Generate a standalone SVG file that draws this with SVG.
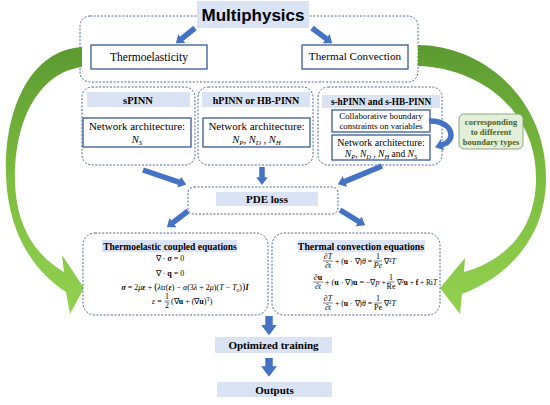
<svg xmlns="http://www.w3.org/2000/svg" width="550" height="405" viewBox="0 0 550 405">
<style>
.dash{fill:#fff;stroke:#4a6594;stroke-width:1;stroke-dasharray:2 1.6}
.box{fill:#fff;stroke:#3a5a96;stroke-width:1.3}
.lbl{fill:#dae3f3}
.t{font-family:"Liberation Serif",serif;fill:#000}
.b{font-family:"Liberation Serif",serif;font-weight:bold;fill:#000}
.eq{font-family:"Liberation Serif",serif;font-size:8px;fill:#000}
.i{font-style:italic}
.bi{font-style:italic;font-weight:bold}
.bd{font-weight:bold}
.cal{font-family:"Liberation Serif",serif;font-style:italic}
.arr{fill:none;stroke:#4472c4;stroke-width:5.5;marker-end:url(#ah)}
.arrw{fill:none;stroke:#4472c4;stroke-width:7.5;marker-end:url(#ah)}
.fl{stroke:#000;stroke-width:0.5}
</style>
<defs>
<marker id="ah" viewBox="0 0 8 12" refX="0.5" refY="6" markerWidth="1.4" markerHeight="2.1" orient="auto" markerUnits="strokeWidth">
<path d="M0,0 L8,6 L0,12 z" fill="#4472c4"/>
</marker>
<linearGradient id="gg" x1="0" y1="0" x2="0" y2="1">
<stop offset="0" stop-color="#5b9a31"/>
<stop offset="0.5" stop-color="#7dbd3f"/>
<stop offset="1" stop-color="#93d150"/>
</linearGradient>
</defs>

<!-- Top Multiphysics group -->
<g id="multiphysics">
<rect class="dash" x="80" y="16" width="338" height="66" rx="10"/>
<rect class="lbl" x="197" y="1" width="112" height="27"/>
<text x="253" y="21" text-anchor="middle" font-family="Liberation Sans,sans-serif" font-weight="bold" font-size="17">Multiphysics</text>
</g>
<g id="thermoelasticity">
<rect class="box" x="91" y="45" width="116" height="24"/>
<text class="t" x="149" y="61" text-anchor="middle" font-size="11.5">Thermoelasticity</text>
</g>
<g id="thermal-convection">
<rect class="box" x="302" y="45" width="106" height="24"/>
<text class="t" x="355" y="60" text-anchor="middle" font-size="11.2">Thermal Convection</text>
</g>

<!-- Green curved arrows -->
<g id="green-arrows">
<path fill="url(#gg)" d="M82,47 C30,50 4,110 6,175 C8,235 35,272 66,292 L70,314 L84,288 L62,255 L64,272 C35,255 15,225 15,178 C15,115 42,72 82,67 Z"/>
<path fill="url(#gg)" d="M418,45 C485,46 546,100 546,178 C546,240 505,278 462,294 L460,314 L440,288 L465,258 L464,272 C500,262 536,235 536,178 C536,110 480,68 418,66 Z"/>
</g>

<!-- Row 2 -->
<g id="spinn">
<rect class="dash" x="82" y="87" width="113" height="78" rx="10"/>
<rect class="lbl" x="87" y="92" width="103" height="15"/>
<text class="b" x="138" y="103.5" text-anchor="middle" font-size="10.5">sPINN</text>
<rect class="box" x="83" y="118" width="108" height="29"/>
<text class="t" x="137" y="130" text-anchor="middle" font-size="11">Network architecture:</text>
<text class="t" x="137" y="143" text-anchor="middle" font-size="10.5"><tspan class="cal">N</tspan><tspan class="i" font-size="7" dy="2">S</tspan></text>
</g>
<g id="hpinn">
<rect class="dash" x="198" y="87" width="115" height="78" rx="10"/>
<rect class="lbl" x="202" y="92" width="108" height="15"/>
<text class="b" x="256" y="103.5" text-anchor="middle" font-size="10">hPINN or HB-PINN</text>
<rect class="box" x="203" y="118" width="107" height="29"/>
<text class="t" x="256.5" y="130" text-anchor="middle" font-size="11">Network architecture:</text>
<text class="t" x="256.5" y="143" text-anchor="middle" font-size="10.5"><tspan class="cal">N</tspan><tspan class="i" font-size="7" dy="2">P</tspan><tspan dy="-2">, </tspan><tspan class="cal">N</tspan><tspan class="i" font-size="7" dy="2">D</tspan><tspan dy="-2"> , </tspan><tspan class="cal">N</tspan><tspan class="i" font-size="7" dy="2">H</tspan></text>
</g>
<g id="s-hpinn">
<rect class="dash" x="318" y="87" width="124" height="78" rx="10"/>
<rect class="lbl" x="322" y="95" width="118" height="13"/>
<text class="b" x="381" y="105" text-anchor="middle" font-size="9.3">s-hPINN and s-HB-PINN</text>
<rect class="box" x="332" y="110" width="98" height="22"/>
<text class="t" x="381" y="119" text-anchor="middle" font-size="8.8">Collaborative boundary</text>
<text class="t" x="381" y="129" text-anchor="middle" font-size="8.8">constraints on variables</text>
<rect class="box" x="332" y="135" width="98" height="25"/>
<text class="t" x="381" y="146" text-anchor="middle" font-size="10">Network architecture:</text>
<text class="t" x="381" y="157" text-anchor="middle" font-size="9.5"><tspan class="cal">N</tspan><tspan class="i" font-size="6.5" dy="2">P</tspan><tspan dy="-2">, </tspan><tspan class="cal">N</tspan><tspan class="i" font-size="6.5" dy="2">D</tspan><tspan dy="-2"> , </tspan><tspan class="cal">N</tspan><tspan class="i" font-size="6.5" dy="2">H</tspan><tspan dy="-2"> and </tspan><tspan class="cal">N</tspan><tspan class="i" font-size="6.5" dy="2">S</tspan></text>
</g>
<g id="boundary-types">
<rect x="459" y="114" width="64" height="35" rx="5" fill="#e2efd9" stroke="#8fa97c" stroke-width="1"/>
<text class="b" x="491" y="124.5" text-anchor="middle" font-size="8.5" style="fill:#4f6228">corresponding</text>
<text class="b" x="491" y="134.5" text-anchor="middle" font-size="8.5" style="fill:#4f6228">to different</text>
<text class="b" x="491" y="144.5" text-anchor="middle" font-size="8.5" style="fill:#4f6228">boundary types</text>
</g>

<!-- PDE loss -->
<g id="pde-loss">
<rect class="dash" x="188" y="187" width="150" height="27" rx="6"/>
<rect class="lbl" x="216" y="192" width="102" height="14"/>
<text class="b" x="267" y="203" text-anchor="middle" font-size="11">PDE loss</text>
</g>

<!-- Thermoelastic equations -->
<g id="thermoelastic-equations">
<rect class="dash" x="83" y="233" width="185" height="82" rx="12"/>
<rect class="lbl" x="102" y="240" width="135" height="12"/>
<text class="b" x="170" y="249.5" text-anchor="middle" font-size="9.5">Thermoelastic coupled equations</text>
<text class="eq" x="170" y="261" text-anchor="middle">∇ · <tspan class="bi">σ</tspan> = 0</text>
<text class="eq" x="170" y="276" text-anchor="middle">∇ · <tspan class="bd">q</tspan> = 0</text>
<text class="eq" x="185" y="290" text-anchor="middle"><tspan class="bi">σ</tspan> = 2<tspan class="i">μ</tspan><tspan class="bi">ε</tspan> + <tspan font-size="10">(</tspan><tspan class="i">λ</tspan>tr(<tspan class="bi">ε</tspan>) − <tspan class="i">α</tspan>(3<tspan class="i">λ</tspan> + 2<tspan class="i">μ</tspan>)(<tspan class="i">T</tspan> − <tspan class="i">T</tspan><tspan class="i" font-size="5.5" dy="1.5">o</tspan><tspan dy="-1.5">)</tspan><tspan font-size="10">)</tspan><tspan class="bi">I</tspan></text>
<text class="eq" x="152" y="303.5"><tspan class="i">ε</tspan> =</text>
<text class="eq" x="167" y="299" text-anchor="middle" font-size="6.5">1</text>
<line class="fl" x1="164.5" y1="301" x2="169.5" y2="301"/>
<text class="eq" x="167" y="307.5" text-anchor="middle" font-size="6.5">2</text>
<text class="eq" x="171" y="303.5">(∇<tspan class="bd">u</tspan> + (∇<tspan class="bd">u</tspan>)<tspan font-size="5.5" dy="-3">T</tspan><tspan dy="3">)</tspan></text>
</g>

<!-- Thermal convection equations -->
<g id="convection-equations">
<rect class="dash" x="272" y="233" width="168" height="82" rx="12"/>
<rect class="lbl" x="298" y="240" width="127" height="12"/>
<text class="b" x="361" y="249.5" text-anchor="middle" font-size="9.8">Thermal convection equations</text>
<!-- eq 1 -->
<text class="eq" x="328" y="259" text-anchor="middle" font-size="7.5">∂<tspan class="i">T</tspan></text>
<line class="fl" x1="323" y1="261" x2="333" y2="261"/>
<text class="eq" x="328" y="268" text-anchor="middle" font-size="7.5">∂<tspan class="i">t</tspan></text>
<text class="eq" x="335" y="264" textLength="37" lengthAdjust="spacingAndGlyphs">+ (<tspan class="bd">u</tspan> · ∇)<tspan class="i">θ</tspan> =</text>
<text class="eq" x="378" y="259" text-anchor="middle" font-size="7.5">1</text>
<line class="fl" x1="374" y1="261" x2="382" y2="261"/>
<text class="eq" x="378" y="268" text-anchor="middle" font-size="7.5"><tspan class="i">Pe</tspan></text>
<text class="eq" x="384" y="264">∇²<tspan class="i">T</tspan></text>
<!-- eq 2 -->
<text class="eq" x="318" y="280" text-anchor="middle" font-size="7.5">∂<tspan class="bd">u</tspan></text>
<line class="fl" x1="313" y1="282" x2="323" y2="282"/>
<text class="eq" x="318" y="289" text-anchor="middle" font-size="7.5">∂<tspan class="i">t</tspan></text>
<text class="eq" x="325" y="285" textLength="61" lengthAdjust="spacingAndGlyphs">+ (<tspan class="bd">u</tspan> · ∇)<tspan class="bd">u</tspan> = −∇<tspan class="i">p</tspan> +</text>
<text class="eq" x="391" y="280" text-anchor="middle" font-size="7.5">1</text>
<line class="fl" x1="387.5" y1="282" x2="394.5" y2="282"/>
<text class="eq" x="391" y="289" text-anchor="middle" font-size="7">Re</text>
<text class="eq" x="397" y="285" font-size="7" textLength="40" lengthAdjust="spacingAndGlyphs">∇²<tspan class="bd">u</tspan> + <tspan class="bd">f</tspan> + Ri<tspan class="i">T</tspan></text>
<!-- eq 3 -->
<text class="eq" x="328" y="301" text-anchor="middle" font-size="7.5">∂<tspan class="i">T</tspan></text>
<line class="fl" x1="323" y1="303" x2="333" y2="303"/>
<text class="eq" x="328" y="310" text-anchor="middle" font-size="7.5">∂<tspan class="i">t</tspan></text>
<text class="eq" x="335" y="306" textLength="37" lengthAdjust="spacingAndGlyphs">+ (<tspan class="bd">u</tspan> · ∇)<tspan class="i">θ</tspan> =</text>
<text class="eq" x="378" y="301" text-anchor="middle" font-size="7.5">1</text>
<line class="fl" x1="374" y1="303" x2="382" y2="303"/>
<text class="eq" x="378" y="310" text-anchor="middle" font-size="7.5">Pe</text>
<text class="eq" x="384" y="306">∇²<tspan class="i">T</tspan></text>
</g>

<!-- Bottom -->
<g id="optimized-training">
<rect class="lbl" x="215" y="337" width="117" height="16"/>
<text class="b" x="273.5" y="349" text-anchor="middle" font-size="11">Optimized training</text>
</g>
<g id="outputs">
<rect class="lbl" x="217" y="382" width="115" height="15"/>
<text class="b" x="274.5" y="393.5" text-anchor="middle" font-size="11">Outputs</text>
</g>

<!-- Connectors -->
<g id="connectors">
<line class="arr" x1="195" y1="28" x2="181.5" y2="38.8"/>
<line class="arr" x1="312" y1="28" x2="326.5" y2="38.9"/>
<line class="arr" x1="143" y1="170" x2="179.5" y2="182.3"/>
<line class="arr" x1="262" y1="167" x2="262" y2="177.8"/>
<line class="arr" x1="382" y1="166" x2="344.5" y2="181.6"/>
<line class="arr" x1="188" y1="211" x2="172.6" y2="222.9"/>
<line class="arr" x1="340" y1="210" x2="359" y2="221.6"/>
<path class="arr" d="M429,121 C452,120 458,140 442,145"/>
<line class="arrw" x1="269" y1="316" x2="269" y2="325.5"/>
<line class="arrw" x1="269" y1="358" x2="269" y2="367"/>
</g>
</svg>
